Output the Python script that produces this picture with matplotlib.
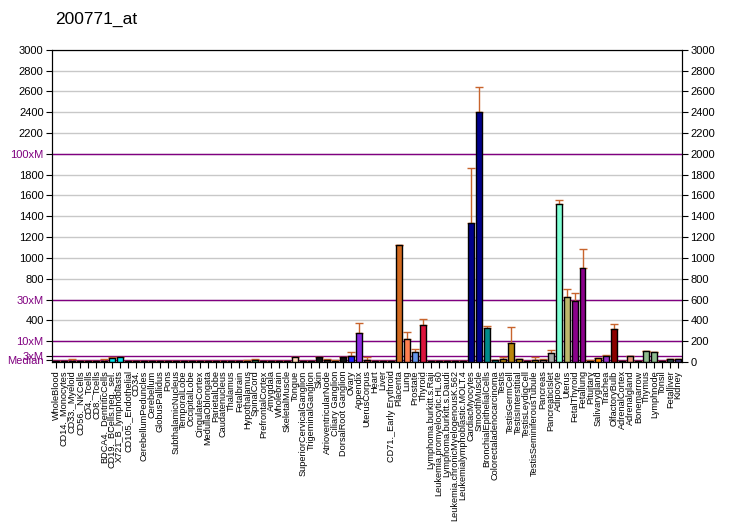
import numpy as np
import matplotlib.pyplot as plt

plt.rcParams['font.family'] = ['Liberation Sans', 'DejaVu Sans']

tissues = ["WholeBlood", "CD14._Monocytes", "CD33._Myeloid", "CD56._NKCells", "CD4._Tcells",
           "CD8._Tcells", "BDCA4._DentriticCells", "CD19._BCells.neg._sel.", "X721_B_lymphoblasts",
           "CD105._Endothelial", "CD34.", "CerebellumPeduncles", "Cerebellum", "GlobusPallidus", "Pons",
           "SubthalamicNucleus", "TemporalLobe", "OccipitalLobe", "CingulateCortex", "MedullaOblongata",
           "ParietalLobe", "Caudatenucleus", "Thalamus", "Fetalbrain", "Hypothalamus", "SpinalCord",
           "PrefrontalCortex", "Amygdala", "Wholebrain", "SkeletalMuscle", "Tongue",
           "SuperiorCervicalGanglion", "TrigeminalGanglion", "Skin", "AtrioventricularNode",
           "Ciliary Ganglion", "DorsalRoot Ganglion", "Ovary", "Appendix", "UterusCorpus", "Heart",
           "Liver", "CD71._Early Erythroid", "Placenta", "Lung", "Prostate", "Thyroid",
           "Lymphoma.burkitt.s.Raji", "Leukemia.promyelocytic.HL.60", "Lymphoma.burkitt.s.Daudi",
           "Leukemia.chronicMyelogenousK.562", "Leukemialymphoblastic.MOLT.4", "CardiacMyocytes",
           "SmoothMuscle", "BronchialEpithelialCells", "Colorectaladenocarcinoma", "Testis",
           "TestisGermCell", "TestisInterstitial", "TestisLeydigCell", "TestisSeminiferousTubule",
           "Pancreas", "PancreaticIslet", "Adipocyte", "Uterus", "FetalThyroid", "Fetallung",
           "Pituitary", "Salivarygland", "Trachea", "OlfactoryBulb", "AdrenalCortex", "Adrenalgland",
           "Bonemarrow", "Thymus", "Lymphnode", "Tonsil", "Fetalliver", "Kidney"]

values = [5, 5, 10, 5, 5, 5, 10, 35, 45, 10, 10,
          5, 5, 5, 5, 5, 5, 5, 5, 5, 5, 5, 5, 8, 8, 18, 8, 5, 5, 5,
          45, 5, 5, 45, 22, 10, 45, 60, 274, 22, 5, 5, 5,
          1120, 223, 98, 351, 10, 10, 10, 5, 5, 1332, 2405, 322, 21, 33,
          185, 27, 10, 21, 22, 82, 1521, 627, 582, 906, 12, 40, 60, 319,
          8, 56, 8, 101, 98, 8, 31, 25]

err_up = [0, 0, 14, 0, 0, 0, 14, 10, 0, 0, 0,
          0, 0, 0, 0, 0, 0, 0, 0, 0, 0, 0, 0, 0, 12, 10, 0, 0, 0, 0,
          0, 0, 0, 0, 8, 12, 0, 40, 103, 23, 0, 0, 0,
          0, 67, 29, 64, 0, 0, 0, 0, 0, 535, 241, 26, 0, 12,
          153, 6, 0, 24, 10, 35, 39, 77, 83, 182, 10, 0, 10, 48,
          0, 6, 0, 9, 0, 0, 0, 7]

colors = (["#00E5EE"] * 11 + ["#2E2E2E"] * 12 + ["#228B22", "#8B4513", "#2E8B57", "#228B22"]
          + ["#222222"] * 3 + ["#FFDAB9", "#333333", "#333333", "#111111", "#3A2A2A", "#5A3A2A",
          "#111111", "#1E1EFF", "#8A2BE2", "#A52A2A", "#444444", "#444444", "#B22222",
          "#D2691E", "#FF7F50", "#6495ED", "#DC143C", "#00E5EE", "#00E5EE", "#00E5EE",
          "#2F2F4F", "#2F2F4F", "#00008B", "#00008B", "#008B8B", "#008080", "#B8860B",
          "#B8860B", "#B8860B", "#CD853F", "#B8860B", "#BC8F8F", "#A9A9A9", "#7FFFD4",
          "#BDB76B", "#8B008B", "#8B008B", "#556B2F", "#FF8C00", "#9932CC", "#8B0000",
          "#2F4F4F", "#E9967A", "#2F4F4F", "#8FBC8F", "#8FBC8F", "#2F4F4F", "#2F4F4F",
          "#483D8B"])

median = 20
marks = [(median, "Median"), (3 * median, "3xM"), (10 * median, "10xM"),
         (30 * median, "30xM"), (100 * median, "100xM")]

fig = plt.figure(figsize=(7.32, 5.30), dpi=100)
ax = fig.add_axes([0.071, 0.317, 0.861, 0.589])
x = np.arange(len(tissues))

for v in range(200, 3001, 200):
    ax.axhline(v, color="#C8C8C8", lw=1, zorder=0)
for v, lab in marks:
    ax.axhline(v, color="#800080", lw=1, zorder=1)

ax.bar(x, values, width=0.75, color=colors, edgecolor="black", linewidth=1, zorder=3)
ax.errorbar(x, values, yerr=[np.zeros(len(x)), err_up], fmt="none", ecolor="#C8642D",
            elinewidth=1, capsize=3, capthick=1, zorder=2)

ax.set_xlim(-0.5, len(tissues) - 0.5)
ax.set_ylim(0, 3000)
ax.set_xticks(x)
ax.set_xticklabels(tissues, rotation=90, fontsize=6.6)
ax.tick_params(axis="x", length=4, pad=2)

left_ticks = [v for v in range(200, 3001, 200) if v not in (200, 600, 2000)]
ax.set_yticks(left_ticks + [m[0] for m in marks])
ax.set_yticklabels([str(v) for v in left_ticks] + [m[1] for m in marks], fontsize=8)
for t in ax.get_yticklabels():
    if not t.get_text().isdigit():
        t.set_color("#800080")
ax.tick_params(axis="y", length=4, pad=2)

ax2 = ax.twinx()
ax2.set_ylim(0, 3000)
ax2.set_yticks(range(0, 3001, 200))
ax2.tick_params(axis="y", labelsize=8, length=4, pad=2)

fig.text(0.075, 0.955, "200771_at", fontsize=12.5)
fig.savefig("out.png", dpi=100)
